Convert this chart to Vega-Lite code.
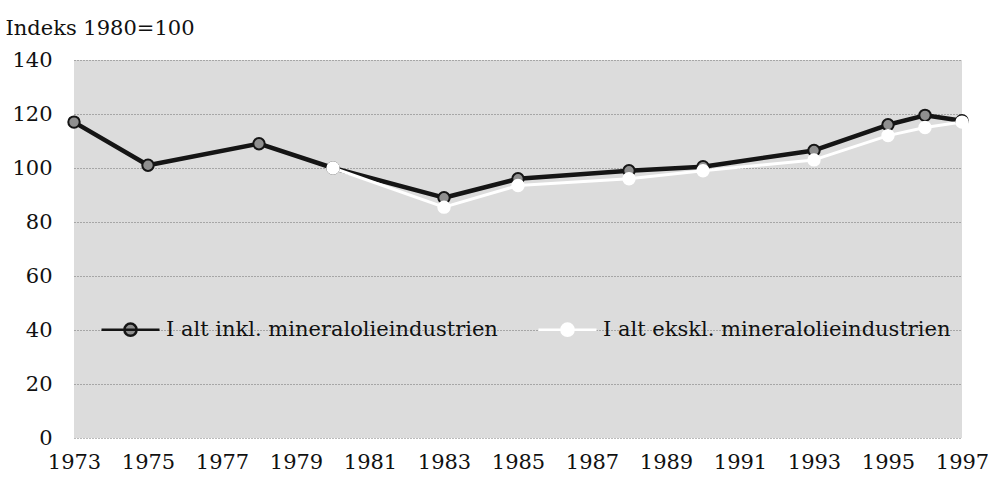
{
  "$schema": "https://vega.github.io/schema/vega-lite/v6.json",
  "width": 888,
  "height": 378,
  "autosize": "none",
  "padding": {"left": 74, "top": 60, "right": 26, "bottom": 48},
  "background": "#ffffff",
  "config": {
    "font": "DejaVu Serif",
    "view": {"fill": "#dcdcdc", "stroke": null},
    "legend": {
      "symbolType": "M-1,0L1,0M-0.21,0A0.21,0.21,0,1,1,0.21,0A0.21,0.21,0,1,1,-0.21,0Z",
      "symbolSize": 3364,
      "symbolStrokeWidth": 2.5,
      "labelFont": "DejaVu Serif",
      "labelFontSize": 21,
      "labelColor": "#111111",
      "labelLimit": 0,
      "labelOffset": 5,
      "columnPadding": 35
    }
  },
  "data": {
    "values": [
      {"year": 1973, "serie": "I alt inkl. mineralolieindustrien", "value": 117},
      {"year": 1975, "serie": "I alt inkl. mineralolieindustrien", "value": 101},
      {"year": 1978, "serie": "I alt inkl. mineralolieindustrien", "value": 109},
      {"year": 1980, "serie": "I alt inkl. mineralolieindustrien", "value": 100},
      {"year": 1983, "serie": "I alt inkl. mineralolieindustrien", "value": 89},
      {"year": 1985, "serie": "I alt inkl. mineralolieindustrien", "value": 96},
      {"year": 1988, "serie": "I alt inkl. mineralolieindustrien", "value": 99},
      {"year": 1990, "serie": "I alt inkl. mineralolieindustrien", "value": 100.5},
      {"year": 1993, "serie": "I alt inkl. mineralolieindustrien", "value": 106.5},
      {"year": 1995, "serie": "I alt inkl. mineralolieindustrien", "value": 116},
      {"year": 1996, "serie": "I alt inkl. mineralolieindustrien", "value": 119.5},
      {"year": 1997, "serie": "I alt inkl. mineralolieindustrien", "value": 117.5},
      {"year": 1980, "serie": "I alt ekskl. mineralolieindustrien", "value": 100},
      {"year": 1983, "serie": "I alt ekskl. mineralolieindustrien", "value": 85.5},
      {"year": 1985, "serie": "I alt ekskl. mineralolieindustrien", "value": 93.5},
      {"year": 1988, "serie": "I alt ekskl. mineralolieindustrien", "value": 96},
      {"year": 1990, "serie": "I alt ekskl. mineralolieindustrien", "value": 99},
      {"year": 1993, "serie": "I alt ekskl. mineralolieindustrien", "value": 103},
      {"year": 1995, "serie": "I alt ekskl. mineralolieindustrien", "value": 112},
      {"year": 1996, "serie": "I alt ekskl. mineralolieindustrien", "value": 115},
      {"year": 1997, "serie": "I alt ekskl. mineralolieindustrien", "value": 117}
    ]
  },
  "encoding": {
    "x": {
      "field": "year",
      "type": "quantitative",
      "scale": {"domain": [1973, 1997], "nice": false, "zero": false},
      "axis": {
        "title": null,
        "values": [1973, 1975, 1977, 1979, 1981, 1983, 1985, 1987, 1989, 1991, 1993, 1995, 1997],
        "format": "d",
        "grid": false,
        "domain": false,
        "ticks": false,
        "labelFont": "DejaVu Serif",
        "labelFontSize": 21,
        "labelColor": "#111111",
        "labelPadding": 13,
        "labelFlush": false,
        "labelOverlap": false
      }
    },
    "y": {
      "field": "value",
      "type": "quantitative",
      "scale": {"domain": [0, 140], "nice": false},
      "axis": {
        "title": "Indeks 1980=100",
        "titleAngle": 0,
        "titleAlign": "left",
        "titleBaseline": "alphabetic",
        "titleX": -69,
        "titleY": -26,
        "titleFont": "DejaVu Serif",
        "titleFontSize": 21,
        "titleFontWeight": "normal",
        "titleColor": "#111111",
        "values": [0, 20, 40, 60, 80, 100, 120, 140],
        "grid": true,
        "gridColor": "#555555",
        "gridDash": [1, 2],
        "gridOpacity": 0.8,
        "domain": false,
        "ticks": false,
        "labelFont": "DejaVu Serif",
        "labelFontSize": 21,
        "labelColor": "#111111",
        "labelPadding": 22
      }
    }
  },
  "layer": [
    {
      "mark": {"type": "line", "strokeJoin": "round"},
      "encoding": {
        "stroke": {
          "field": "serie",
          "type": "nominal",
          "scale": {
            "domain": ["I alt inkl. mineralolieindustrien", "I alt ekskl. mineralolieindustrien"],
            "range": ["#151515", "#ffffff"]
          },
          "legend": {
            "title": null,
            "orient": "none",
            "legendX": 26,
            "legendY": 239,
            "direction": "horizontal"
          }
        },
        "strokeWidth": {
          "condition": {"test": "datum.serie === 'I alt ekskl. mineralolieindustrien'", "value": 3},
          "value": 4.5
        }
      }
    },
    {
      "mark": {"type": "point", "filled": true, "size": 130, "strokeWidth": 2, "opacity": 1},
      "encoding": {
        "stroke": {
          "field": "serie",
          "type": "nominal",
          "scale": {
            "domain": ["I alt inkl. mineralolieindustrien", "I alt ekskl. mineralolieindustrien"],
            "range": ["#151515", "#ffffff"]
          },
          "legend": {
            "title": null,
            "orient": "none",
            "legendX": 26,
            "legendY": 239,
            "direction": "horizontal"
          }
        },
        "fill": {
          "field": "serie",
          "type": "nominal",
          "scale": {
            "domain": ["I alt inkl. mineralolieindustrien", "I alt ekskl. mineralolieindustrien"],
            "range": ["#8f8f8f", "#ffffff"]
          },
          "legend": {
            "title": null,
            "orient": "none",
            "legendX": 26,
            "legendY": 239,
            "direction": "horizontal"
          }
        }
      }
    }
  ]
}
